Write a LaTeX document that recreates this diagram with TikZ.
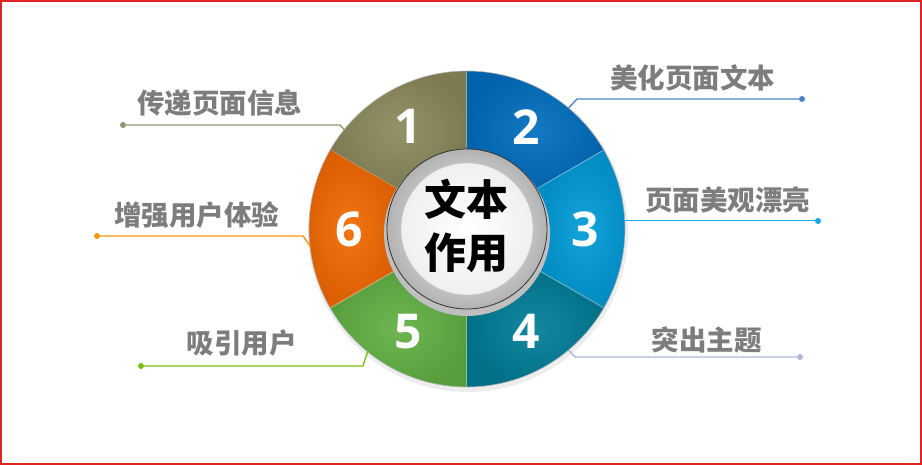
\documentclass[tikz,border=0pt]{standalone}
\usepackage{fontspec}
\newfontfamily\cjk{Noto Sans CJK SC}
\newfontfamily\numfont{Open Sans}
\usetikzlibrary{calc}
\definecolor{segolive}{RGB}{140,137,92}
\definecolor{segblue}{RGB}{0,110,190}
\definecolor{segsky}{RGB}{0,155,215}
\definecolor{segteal}{RGB}{0,125,150}
\definecolor{seggreen}{RGB}{98,176,68}
\definecolor{segorange}{RGB}{242,105,0}
\definecolor{lineolive}{RGB}{150,146,112}
\definecolor{lineblue}{RGB}{80,130,200}
\definecolor{linesky}{RGB}{20,170,235}
\definecolor{linepale}{RGB}{170,185,215}
\definecolor{linegreen}{RGB}{120,190,20}
\definecolor{lineorange}{RGB}{245,150,20}
\definecolor{labelgray}{RGB}{125,125,125}
\definecolor{framered}{RGB}{225,35,35}
\tikzset{
tag/.style={font=\cjk\bfseries\fontsize{27.5}{30}\selectfont,text=labelgray,inner sep=0pt},
num/.style={font=\numfont\bfseries\fontsize{48}{50}\selectfont,text=white,inner sep=0pt},
hub/.style={font=\cjk\bfseries\fontsize{42}{53}\selectfont,align=center,inner sep=0pt},
dot/.style={circle,inner sep=0pt,minimum size=6pt},
leader/.style={line width=1.4pt}
}

\begin{document}
\begin{tikzpicture}[x=1pt,y=1pt]
\useasboundingbox (-467,-236) rectangle (455,229);
\draw[framered,line width=1.5pt] (-466,-235) rectangle (454,228);
% ring
\fill[black!7] (1,-3) circle[radius=160pt];
\foreach \c/\s in {segolive/90,segblue/30,segsky/-30,segteal/-90,seggreen/-150,segorange/150}{
  \shade[inner color=\c!92!white,outer color=\c!90!black] (\s:80pt) -- (\s:158pt) arc[start angle=\s,delta angle=60,radius=158pt] -- (\s+60:80pt) arc[start angle=\s+60,delta angle=-60,radius=80pt] -- cycle;
  \draw[white,opacity=0.35,line width=1pt] (\s+60:82pt) -- (\s+60:157pt);
}
\draw[black!30,line width=0.6pt] (0,0) circle[radius=158pt];
% center
\fill[black!25] (0,-4) circle[radius=83pt];
\shade[outer color=gray!60,inner color=white,draw=black!80,line width=0.8pt] (0,0) circle[radius=80pt];
\shade[inner color=white,outer color=gray!12,draw=gray!45] (0,0) circle[radius=66pt];
\node[hub] (hub) at (0,3) {文本\\作用};
\foreach \n/\a in {1/120,2/60,3/0,4/-60,5/-120,6/180}
  \node[num] (n\n) at (\a:118pt) {\n};
% leaders
\coordinate (rim1) at (141:158pt);
\coordinate (rim2) at (50:158pt);
\coordinate (rim3) at (3:158pt);
\coordinate (rim4) at (-50:158pt);
\coordinate (rim5) at (231:158pt);
\coordinate (rim6) at (186:158pt);
\node[dot,fill=lineolive] (d1) at (-344,104) {};
\node[dot,fill=lineblue] (d2) at (335,130) {};
\node[dot,fill=linesky] (d3) at (351,8) {};
\node[dot,fill=linepale] (d4) at (333,-128) {};
\node[dot,fill=linegreen] (d5) at (-326,-137) {};
\node[dot,fill=lineorange] (d6) at (-370,-7) {};
\coordinate (e1) at (-127,104);
\coordinate (e2) at (110,130);
\coordinate (e4) at (108,-128);
\coordinate (e5) at (-104,-137);
\coordinate (e6) at (-164,-7);
\draw[leader,lineolive] (d1) -- (e1) -- (rim1);
\draw[leader,lineblue] (d2) -- (e2) -- (rim2);
\draw[leader,linesky] (d3) -- (rim3 -| d3) -- (rim3);
\draw[leader,linepale] (d4) -- (e4) -- (rim4);
\draw[leader,linegreen] (d5) -- (e5) -- (rim5);
\draw[leader,lineorange] (d6) -- (e6) -- (rim6);
\node[tag] (t1) at (-247,126) {传递页面信息};
\node[tag] (t2) at (226,151) {美化页面文本};
\node[tag] (t3) at (261,29) {页面美观漂亮};
\node[tag] (t4) at (240,-111) {突出主题};
\node[tag] (t5) at (-225,-114) {吸引用户};
\node[tag] (t6) at (-270,14) {增强用户体验};
\end{tikzpicture}
\end{document}
